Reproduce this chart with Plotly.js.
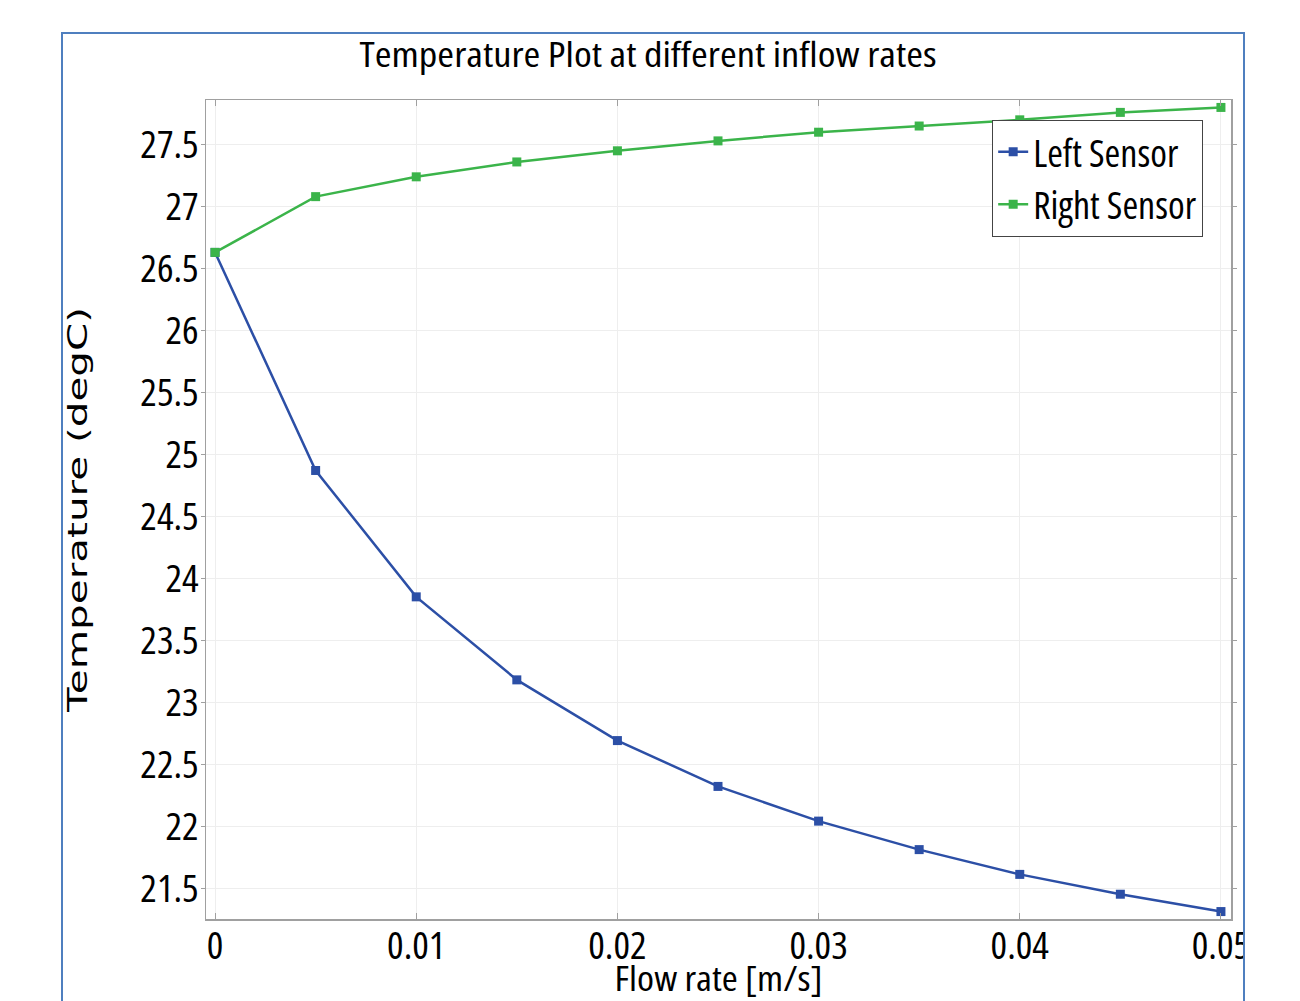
<!DOCTYPE html>
<html>
<head>
<meta charset="utf-8">
<script src="https://cdn.plot.ly/plotly-3.0.1.min.js"></script>
<style>
  html, body { margin: 0; padding: 0; background: #ffffff; }
  #wrap { position: relative; width: 1300px; height: 1001px; overflow: hidden; }
  #clip { position: absolute; left: 0; top: 0; width: 1243px; height: 1001px; overflow: hidden; }
  #frame { position: absolute; left: 61px; top: 32px; width: 1180px; height: 1000px; border: 2px solid #4f7fbf; pointer-events: none; }
  #chart { position: absolute; left: 0; top: 0; width: 1300px; height: 1001px; }
  svg text { font-stretch: 75% !important; }
  svg text.ytitle { font-stretch: 100% !important; }
</style>
</head>
<body>
<div id="wrap">
  <div id="clip"><div id="chart"></div></div>
  <div id="frame"></div>
</div>
<script>
const flowRate = [0, 0.005, 0.01, 0.015, 0.02, 0.025, 0.03, 0.035, 0.04, 0.045, 0.05];
const leftSensor = [26.63, 24.87, 23.85, 23.18, 22.69, 22.32, 22.04, 21.81, 21.61, 21.45, 21.31];
const rightSensor = [26.63, 27.08, 27.24, 27.36, 27.45, 27.53, 27.60, 27.65, 27.70, 27.76, 27.80];
const xTickVals = [0, 0.01, 0.02, 0.03, 0.04, 0.05];
const xTickText = ['0', '0.01', '0.02', '0.03', '0.04', '0.05'];
const yTickVals = [21.5, 22, 22.5, 23, 23.5, 24, 24.5, 25, 25.5, 26, 26.5, 27, 27.5];
const yTickText = ['21.5', '22', '22.5', '23', '23.5', '24', '24.5', '25', '25.5', '26', '26.5', '27', '27.5'];
const seriesNames = ['Left Sensor', 'Right Sensor'];

const narrow = '"Open Sans", "DejaVu Sans Condensed", sans-serif';

const traces = [
  {
    x: flowRate, y: leftSensor, name: seriesNames[0], type: 'scatter', mode: 'lines+markers',
    line: { color: '#2c4fa6', width: 2.5 },
    marker: { symbol: 'square', size: 9, color: '#2c4fa6' }
  },
  {
    x: flowRate, y: rightSensor, name: seriesNames[1], type: 'scatter', mode: 'lines+markers',
    line: { color: '#3bb44a', width: 2.5 },
    marker: { symbol: 'square', size: 9, color: '#3bb44a' }
  }
];

const layout = {
  width: 1300, height: 1001,
  margin: { l: 206, r: 69, t: 100, b: 82, pad: 0 },
  paper_bgcolor: '#ffffff', plot_bgcolor: '#ffffff',
  font: { family: narrow, color: '#000000', size: 36 },
  title: {
    text: 'Temperature Plot at different inflow rates',
    font: { family: narrow, size: 34, color: '#000000' },
    x: 0.4985, xref: 'container', xanchor: 'center',
    y: 0.945, yref: 'container', yanchor: 'middle'
  },
  showlegend: true,
  legend: {
    x: 0.767, y: 0.976, xanchor: 'left', yanchor: 'top',
    bgcolor: '#ffffff', bordercolor: '#444444', borderwidth: 1,
    font: { family: narrow, size: 38, color: '#000000' },
    itemwidth: 30, tracegroupgap: 0
  },
  xaxis: {
    range: [-0.00045, 0.0505],
    tickvals: xTickVals, ticktext: xTickText,
    tickfont: { family: narrow, size: 39, color: '#000000' },
    ticklabelstandoff: -8,
    showgrid: true, gridcolor: '#eeeeee', gridwidth: 1,
    showline: true, linecolor: '#a0a0a0', linewidth: 1.5, mirror: 'ticks',
    ticks: 'inside', ticklen: 6, tickcolor: '#a0a0a0',
    zeroline: false,
    title: { text: 'Flow rate [m/s]', font: { family: narrow, size: 35, color: '#000000' }, standoff: 0 }
  },
  yaxis: {
    range: [21.25, 27.86],
    tickvals: yTickVals, ticktext: yTickText,
    tickfont: { family: narrow, size: 39, color: '#000000' },
    ticklabelstandoff: -6,
    showgrid: true, gridcolor: '#eeeeee', gridwidth: 1,
    showline: true, linecolor: '#a0a0a0', linewidth: 1.5, mirror: 'ticks',
    ticks: 'outside', ticklen: 4, tickcolor: '#a0a0a0',
    zeroline: false,
    title: { text: 'Temperature (degC)', font: { family: '"DejaVu Sans", Verdana, sans-serif', size: 27, color: '#000000' }, standoff: 45 }
  }
};

// lengths of the title texts as measured on the reference picture
const textLengths = { 'text.ytitle': 405, 'text.gtitle': 577, 'text.xtitle': 208 };

Plotly.newPlot('chart', traces, layout, { displayModeBar: false, staticPlot: true }).then(function (gd) {
  Object.keys(textLengths).forEach(function (sel) {
    const t = gd.querySelector(sel);
    if (t) {
      t.setAttribute('textLength', String(textLengths[sel]));
      t.setAttribute('lengthAdjust', 'spacingAndGlyphs');
    }
  });
});
</script>
</body>
</html>
